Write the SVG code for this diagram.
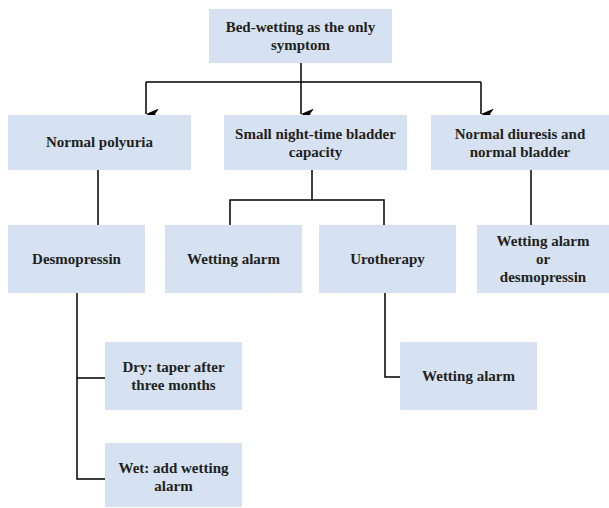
<svg xmlns="http://www.w3.org/2000/svg" width="609" height="508" viewBox="0 0 609 508">
<style>
.box{fill:#d6e2f1;}
.t{font-family:"Liberation Serif","Times New Roman",serif;font-size:15px;font-weight:bold;fill:#231f20;text-anchor:middle;}
.c{fill:none;stroke:#000;stroke-width:1.5;}
</style>
<defs>
<marker id="arr" markerWidth="11" markerHeight="13" refX="5.5" refY="13" orient="auto" markerUnits="userSpaceOnUse" viewBox="0 0 11 13">
<path d="M0,0 L5.5,4 L11,0 L5.5,13 Z" fill="#000"/>
</marker>
</defs>
<rect width="609" height="508" fill="#fff"/>
<g id="connectors">
<path class="c" d="M301,63 V82"/>
<path class="c" d="M146,82 H481"/>
<path class="c" d="M146,82 V114" marker-end="url(#arr)"/>
<path class="c" d="M301,82 V114" marker-end="url(#arr)"/>
<path class="c" d="M481,82 V114" marker-end="url(#arr)"/>
<path class="c" d="M98,170 V225"/>
<path class="c" d="M312,170 V200 M230,225 V200 H384 V225"/>
<path class="c" d="M531,170 V225"/>
<path class="c" d="M77,293 V479 H105 M77,378 H105"/>
<path class="c" d="M385,293 V377 H400"/>
</g>
<g id="n-top"><rect class="box" x="209" y="9" width="183" height="54"/><text class="t" x="300.5" y="32">Bed-wetting as the only</text><text class="t" x="300.5" y="50">symptom</text></g>
<g id="n-polyuria"><rect class="box" x="8" y="115" width="183" height="55"/><text class="t" x="99.5" y="147">Normal polyuria</text></g>
<g id="n-small"><rect class="box" x="224" y="115" width="183" height="55"/><text class="t" x="315.5" y="138.5">Small night-time bladder</text><text class="t" x="315.5" y="156.5">capacity</text></g>
<g id="n-diuresis"><rect class="box" x="431" y="115" width="178" height="55"/><text class="t" x="520" y="138.5">Normal diuresis and</text><text class="t" x="520" y="156.5">normal bladder</text></g>
<g id="n-desmo"><rect class="box" x="8" y="225" width="137" height="68"/><text class="t" x="76.5" y="264">Desmopressin</text></g>
<g id="n-alarm1"><rect class="box" x="165" y="225" width="137" height="68"/><text class="t" x="233.5" y="264">Wetting alarm</text></g>
<g id="n-uro"><rect class="box" x="319" y="225" width="137" height="68"/><text class="t" x="387.5" y="264">Urotherapy</text></g>
<g id="n-alarmor"><rect class="box" x="477" y="225" width="132" height="68"/><text class="t" x="543" y="246">Wetting alarm</text><text class="t" x="543" y="264">or</text><text class="t" x="543" y="282">desmopressin</text></g>
<g id="n-dry"><rect class="box" x="105" y="342" width="137" height="68"/><text class="t" x="173.5" y="372">Dry: taper after</text><text class="t" x="173.5" y="390">three months</text></g>
<g id="n-wet"><rect class="box" x="105" y="443" width="137" height="64"/><text class="t" x="173.5" y="473">Wet: add wetting</text><text class="t" x="173.5" y="491">alarm</text></g>
<g id="n-alarm2"><rect class="box" x="400" y="342" width="137" height="68"/><text class="t" x="468.5" y="381">Wetting alarm</text></g>
</svg>
